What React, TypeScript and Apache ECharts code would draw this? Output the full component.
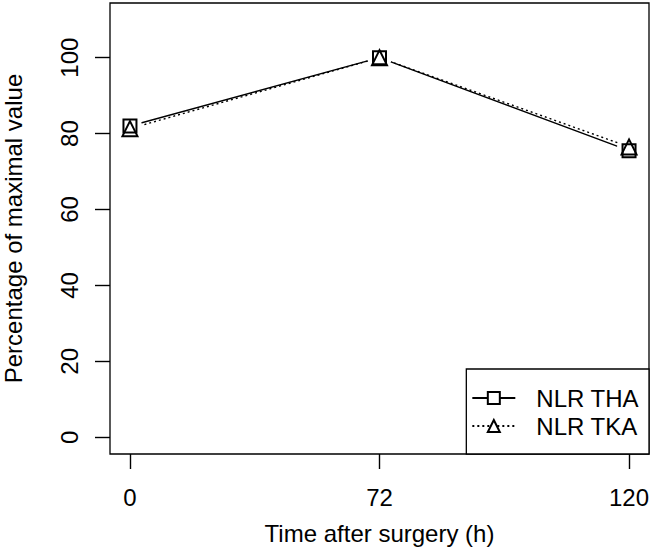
import React, { useEffect, useRef } from "react";
import * as echarts from "echarts";

const timeLabels = ["0", "72", "120"];
const thaValues = [82.0, 100, 75.5];
const tkaValues = [81.3, 100, 76.5];
const yTicks = [0, 20, 40, 60, 80, 100];
const seriesNames = ["NLR THA", "NLR TKA"];

const FONT = "Liberation Sans, Arial, Helvetica, sans-serif";

export default function App() {
  const ref = useRef<HTMLDivElement>(null);
  useEffect(() => {
    if (!ref.current) return;
    const chart = echarts.init(ref.current, null, { renderer: "svg" });
    const xPos = timeLabels.map((_, i) => i + 1);
    const thaData = xPos.map((x, i) => [x, thaValues[i]]);
    const tkaData = xPos.map((x, i) => [x, tkaValues[i]]);
    const lineW = 1.4;
    const option: any = {
      animation: false,
      backgroundColor: "#fff",
      textStyle: { fontFamily: FONT, color: "#000" },
      grid: {
        left: 110,
        top: 3,
        width: 539,
        height: 451,
        show: true,
        borderColor: "#000",
        borderWidth: 1.3,
        backgroundColor: "transparent",
        containLabel: false,
        outerBoundsMode: "none",
      },
      xAxis: {
        type: "value",
        min: 0.92,
        max: 3.08,
        axisLine: { show: false, onZero: false },
        splitLine: { show: false },
        axisTick: {
          show: true,
          inside: false,
          length: 15,
          customValues: xPos,
          lineStyle: { color: "#000", width: lineW },
        },
        axisLabel: {
          show: true,
          customValues: xPos,
          margin: 31,
          fontSize: 24,
          fontFamily: FONT,
          color: "#000",
          formatter: (v: number) => timeLabels[Math.round(v) - 1] ?? "",
        },
        name: "Time after surgery (h)",
        nameLocation: "middle",
        nameGap: 67,
        nameTextStyle: { fontSize: 24, fontFamily: FONT, color: "#000" },
      },
      yAxis: {
        type: "value",
        min: -4.4,
        max: 114.4,
        axisLine: { show: false, onZero: false },
        splitLine: { show: false },
        axisTick: {
          show: true,
          inside: false,
          length: 15,
          customValues: yTicks,
          lineStyle: { color: "#000", width: lineW },
        },
        axisLabel: {
          show: true,
          customValues: yTicks,
          rotate: 90,
          margin: 29,
          fontSize: 24,
          fontFamily: FONT,
          color: "#000",
          formatter: (v: number) => String(v),
        },
        name: "Percentage of maximal value",
        nameLocation: "middle",
        nameGap: 85,
        nameTextStyle: { fontSize: 24, fontFamily: FONT, color: "#000" },
      },
      legend: {
        data: seriesNames,
        orient: "vertical",
        right: 3,
        bottom: 94,
        itemWidth: 43,
        itemHeight: 15,
        itemGap: 4,
        padding: [17, 10, 16, 5],
        borderColor: "#000",
        borderWidth: 1.3,
        borderRadius: 0,
        backgroundColor: "#fff",
        textStyle: {
          fontSize: 24,
          fontFamily: FONT,
          color: "#000",
          padding: [0, 0, 0, 16],
        },
        selectedMode: false,
      },
      series: [
        {
          name: seriesNames[0],
          type: "line",
          data: thaData,
          symbol: "emptyRect",
          symbolSize: 13,
          showSymbol: false,
          lineStyle: { color: "#000", width: lineW, type: "solid" },
          itemStyle: { color: "#000" },
          z: 1,
          silent: true,
        },
        {
          name: seriesNames[1],
          type: "line",
          data: tkaData,
          symbol: "emptyTriangle",
          symbolSize: 15,
          showSymbol: false,
          lineStyle: { color: "#000", width: lineW, type: [2, 3] },
          itemStyle: { color: "#000" },
          z: 1,
          silent: true,
        },
        {
          name: "gapTHA",
          type: "scatter",
          data: thaData,
          symbol: "circle",
          symbolSize: 24,
          itemStyle: { color: "#fff", opacity: 1 },
          z: 2,
          silent: true,
        },
        {
          name: "gapTKA",
          type: "scatter",
          data: tkaData,
          symbol: "circle",
          symbolSize: 24,
          itemStyle: { color: "#fff", opacity: 1 },
          z: 2,
          silent: true,
        },
        {
          name: "markTHA",
          type: "scatter",
          data: thaData,
          symbol: "rect",
          symbolSize: 13,
          itemStyle: { color: "transparent", borderColor: "#000", borderWidth: 2, opacity: 1 },
          z: 3,
          silent: true,
        },
        {
          name: "markTKA",
          type: "scatter",
          data: tkaData,
          symbol: "triangle",
          symbolSize: 15,
          itemStyle: { color: "transparent", borderColor: "#000", borderWidth: 2, opacity: 1 },
          z: 3,
          silent: true,
        },
      ],
    };
    chart.setOption(option);
    return () => chart.dispose();
  }, []);
  return (
    <div
      ref={ref}
      style={{ position: "absolute", left: 0, top: 0, width: 652, height: 548 }}
    />
  );
}
